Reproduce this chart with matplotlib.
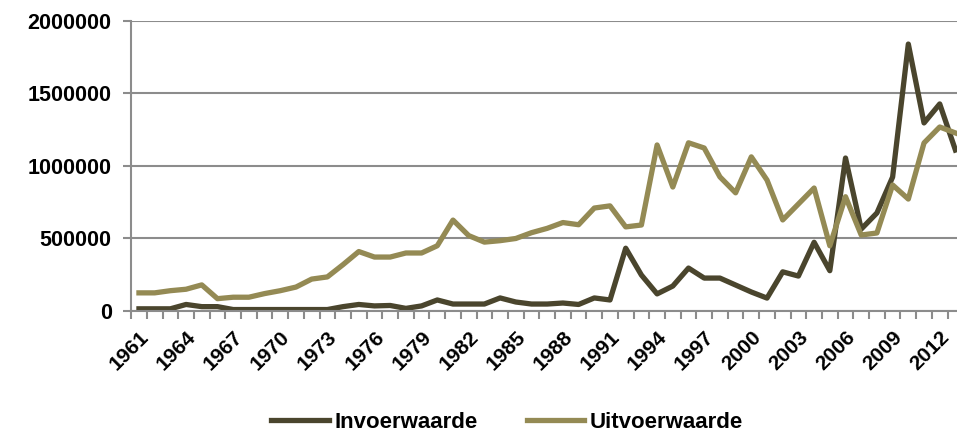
import matplotlib.pyplot as plt
import numpy as np

years = list(range(1961, 2014))
invoer = [15000, 15000, 15000, 45000, 30000, 30000, 10000, 10000, 10000, 10000,
          10000, 10000, 10000, 30000, 45000, 35000, 38000, 18000, 35000, 76000,
          48000, 48000, 48000, 90000, 62000, 48000, 48000, 55000, 45000, 90000,
          76000, 433000, 248000, 118000, 172000, 296000, 227000, 227000, 179000, 131000,
          89000, 270000, 241000, 474000, 278000, 1055000, 565000, 676000, 924000, 1841000,
          1297000, 1428000, 1110000]
uitvoer = [125000, 125000, 140000, 150000, 180000, 85000, 95000, 95000, 120000, 140000,
           165000, 220000, 235000, 320000, 410000, 372000, 372000, 400000, 400000, 450000,
           627000, 520000, 475000, 485000, 500000, 540000, 570000, 610000, 595000, 710000,
           725000, 580000, 593000, 1145000, 855000, 1160000, 1124000, 925000, 815000, 1063000,
           903000, 628000, 738000, 848000, 450000, 788000, 524000, 538000, 869000, 772000,
           1159000, 1269000, 1228000]
series_names = ["Invoerwaarde", "Uitvoerwaarde"]
colors = ["#4a452d", "#948a54"]

plt.rcParams['font.family'] = ['Liberation Sans', 'DejaVu Sans']

fig = plt.figure(figsize=(9.57, 4.42), dpi=100)
ax = fig.add_axes([0.137, 0.2964, 0.863, 0.6561])

x = np.arange(len(years))
ax.plot(x, invoer, color=colors[0], lw=3.8, label=series_names[0])
ax.plot(x, uitvoer, color=colors[1], lw=3.8, label=series_names[1])

ax.set_ylim(0, 2000000)
ax.set_yticks([0, 500000, 1000000, 1500000, 2000000])
ax.set_yticklabels([str(v) for v in [0, 500000, 1000000, 1500000, 2000000]],
                   fontsize=15.5, fontweight='bold')
ax.yaxis.grid(True, color='#8c8c8c', lw=1.5)
ax.set_axisbelow(True)

ax.set_xlim(-0.5, 52.1)
ax.set_xticks(x - 0.5, minor=True)
ax.set_xticks(x[::3])
ax.set_xticklabels([str(y) for y in years[::3]], rotation=45, ha='right', va='top',
                   rotation_mode='anchor', fontsize=15, fontweight='bold')
ax.tick_params(axis='x', which='major', length=0, pad=12)
ax.tick_params(axis='x', which='minor', length=6, width=1.5, color='#8c8c8c')
ax.tick_params(axis='y', length=6, width=1.5, color='#8c8c8c', pad=8)

for s in ['top', 'right']:
    ax.spines[s].set_visible(False)
for s in ['left', 'bottom']:
    ax.spines[s].set_color('#8c8c8c')
    ax.spines[s].set_linewidth(1.5)

fig.legend(loc='lower center', bbox_to_anchor=(0.53, -0.025), ncol=2, frameon=False,
           prop={'size': 16, 'weight': 'bold'}, handlelength=2.6, handletextpad=0.25,
           columnspacing=2.2)

fig.savefig("out.png", dpi=100)
